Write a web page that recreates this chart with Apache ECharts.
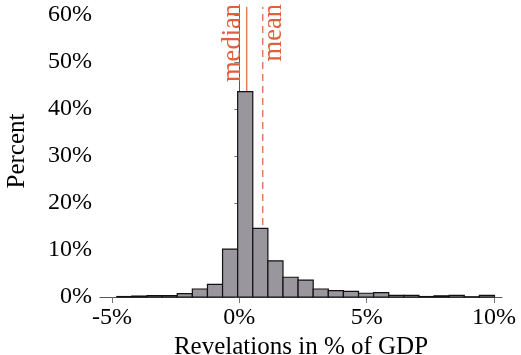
<!DOCTYPE html>
<html>
<head>
<meta charset="utf-8">
<script src="https://cdn.jsdelivr.net/npm/echarts@6/dist/echarts.min.js"></script>
<style>html,body{margin:0;padding:0;background:#fff;}#c{width:521px;height:355px;}</style>
</head>
<body>
<div id="c"></div>
<script>
// Histogram bin edges (% of GDP) and bar heights (percent of observations)
const binEdges = [-4.81, -4.217, -3.624, -3.031, -2.438, -1.845, -1.252, -0.659, -0.066, 0.527, 1.12, 1.713, 2.306, 2.899, 3.492, 4.085, 4.678, 5.271, 5.864, 6.457, 7.05, 7.643, 8.236, 8.829, 9.422, 10.015];
const percents = [0.1, 0.2, 0.3, 0.3, 0.7, 1.7, 2.7, 10.2, 43.7, 14.6, 7.7, 4.2, 3.6, 1.7, 1.35, 1.2, 0.8, 0.95, 0.35, 0.35, 0.1, 0.25, 0.35, 0.05, 0.35];
const refNames = ['median', 'mean'];
const refValues = [0.29, 0.92];
const xTicks = [-5, 0, 5, 10];
const xTickLabels = ['-5%', '0%', '5%', '10%'];
const yTicks = [0, 10, 20, 30, 40, 50, 60];
const yTickLabels = ['0%', '10%', '20%', '30%', '40%', '50%', '60%'];

const font = 'Liberation Serif';
const accent = '#e0603c';
const yMax = 62.13;
const histData = percents.map((v, i) => [binEdges[i], binEdges[i + 1], v]);
const refData = refValues.map((v, i) => [v, i]);

const chart = echarts.init(document.getElementById('c'), null, {renderer: 'canvas'});
chart.setOption({
  animation: false,
  backgroundColor: '#fff',
  grid: {left: 100, right: 19, top: 5, bottom: 58, containLabel: false, outerBoundsMode: 'none'},
  xAxis: {
    type: 'value', min: -5.47, max: 10.31,
    name: 'Revelations in % of GDP', nameLocation: 'middle', nameGap: 32,
    nameTextStyle: {fontFamily: font, fontSize: 25, color: '#000'},
    axisLine: {show: true, onZero: false, lineStyle: {color: '#555', width: 1}},
    axisTick: {show: true, length: 6, customValues: xTicks, lineStyle: {color: '#777'}},
    axisLabel: {customValues: xTicks, margin: 9, fontFamily: font, fontSize: 24, color: '#000',
      formatter: v => xTickLabels[xTicks.indexOf(v)]},
    splitLine: {show: false}
  },
  yAxis: {
    type: 'value', min: 0, max: yMax,
    name: 'Percent', nameLocation: 'middle', nameGap: 70,
    nameTextStyle: {fontFamily: font, fontSize: 25, color: '#000'},
    axisLine: {show: true, lineStyle: {color: '#555', width: 1}},
    axisTick: {show: true, length: 5, customValues: yTicks, lineStyle: {color: '#777'}},
    axisLabel: {customValues: yTicks, margin: 8, fontFamily: font, fontSize: 24, color: '#000',
      formatter: v => yTickLabels[yTicks.indexOf(v)]},
    splitLine: {show: false}
  },
  series: [
    {
      type: 'line', z: 1, silent: true, symbol: 'none',
      data: [[refValues[0], 0], [refValues[0], yMax - 0.4]],
      lineStyle: {color: accent, width: 1.2, type: 'solid'},
      itemStyle: {color: accent}
    },
    {
      type: 'line', z: 1, silent: true, symbol: 'none',
      data: [[refValues[1], 0], [refValues[1], yMax - 0.4]],
      lineStyle: {color: accent, width: 1.2, type: [7, 5]},
      itemStyle: {color: accent}
    },
    {
      type: 'custom', z: 2, silent: true,
      data: refData,
      renderItem: function (params, api) {
        const idx = api.value(1);
        const top = api.coord([api.value(0), yMax]);
        const isMedian = idx === 0;
        return {
          type: 'text',
          x: isMedian ? top[0] : top[0] - 2,
          y: top[1] - 1,
          rotation: Math.PI / 2,
          style: {
            text: refNames[idx], fill: accent, fontFamily: font, fontSize: 26.5,
            align: 'right', verticalAlign: isMedian ? 'bottom' : 'top'
          }
        };
      }
    },
    {
      type: 'custom', z: 3,
      data: histData,
      renderItem: function (params, api) {
        const p0 = api.coord([api.value(0), api.value(2)]);
        const p1 = api.coord([api.value(1), 0]);
        return {
          type: 'rect',
          shape: {x: p0[0], y: p0[1], width: p1[0] - p0[0], height: p1[1] - p0[1]},
          style: {fill: '#9a969d', stroke: '#111', lineWidth: 1.2}
        };
      }
    }
  ]
});
</script>
</body>
</html>
